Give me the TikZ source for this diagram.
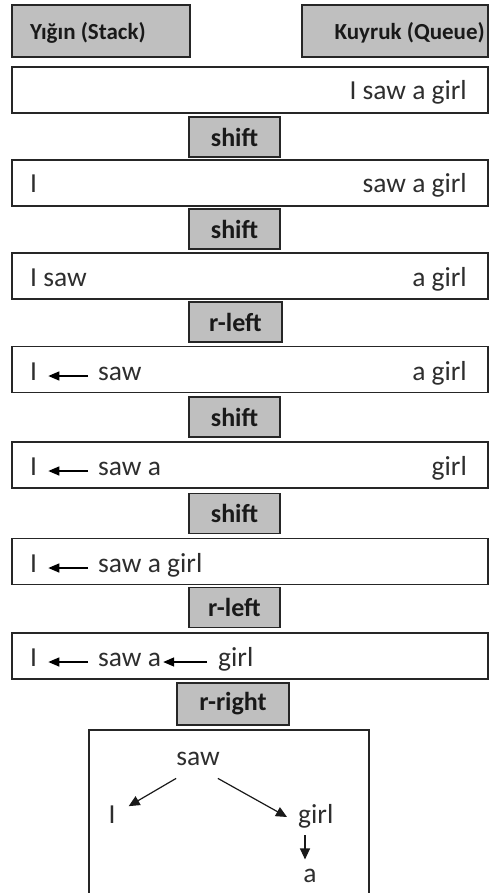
\documentclass[tikz,border=0pt]{standalone}
\usepackage{fontspec}
\setmainfont{Carlito}
\usetikzlibrary{arrows.meta}
\definecolor{btngray}{HTML}{BFBFBF}
\definecolor{txt}{HTML}{2E2E2E}
\tikzset{
  rowbox/.style={draw=black!85, line width=1.3pt, fill=white, minimum width=476pt, minimum height=46pt, inner sep=0pt},
  hdr/.style={draw=black!85, line width=1.3pt, fill=btngray, inner sep=0pt, minimum height=52pt},
  hdrtxt/.style={font=\fontsize{23}{27}\selectfont\bfseries, text=black!90, inner sep=0pt},
  actbox/.style={draw=black!85, line width=1.3pt, fill=btngray, minimum height=40pt, minimum width=91pt, inner sep=0pt, font=\fontsize{26}{30}\selectfont\bfseries, text=black!90},
  word/.style={font=\fontsize{27.5}{32}\selectfont, text=txt, inner sep=0pt},
  rowarr/.style={line width=1.5pt, draw=black, -{Triangle[length=11pt,width=9pt]}},
  treearr/.style={line width=1.2pt, draw=black!90, -{Triangle[length=11pt,width=10pt]}},
}
\begin{document}
\begin{tikzpicture}[x=1pt,y=-1pt]
\useasboundingbox (0,0) rectangle (490,893);
% headers
\node[hdr, minimum width=178pt] (stack) at (101,31) {};
\node[hdrtxt, anchor=base west] (stackt) at (30,40) {Yığın (Stack)};
\node[hdr, minimum width=186pt] (queue) at (395,31) {};
\node[hdrtxt, anchor=base east] (queuet) at (485,40) {Kuyruk (Queue)};
% rows
\node[rowbox] (r1) at (250,90) {};
\node[rowbox] (r2) at (250,183) {};
\node[rowbox] (r3) at (250,276) {};
\node[rowbox] (r4) at (250,369.5) {};
\node[rowbox] (r5) at (250,465) {};
\node[rowbox] (r6) at (250,561.5) {};
\node[rowbox] (r7) at (250,656) {};
% actions
\node[actbox] (a1) at (234.5,137) {shift};
\node[actbox] (a2) at (234.5,229) {shift};
\node[actbox, minimum width=93pt] (a3) at (235.5,322) {r-left};
\node[actbox] (a4) at (234.5,417) {shift};
\node[actbox] (a5) at (234.5,513.5) {shift};
\node[actbox] (a6) at (234.5,607.5) {r-left};
\node[actbox, minimum width=112pt, minimum height=42pt] (a7) at (233,704) {r-right};
% row 1
\node[word, anchor=base east] (r1q) at (467,100) {I saw a girl};
% row 2
\node[word, anchor=base west] (r2i) at (30,193) {I};
\node[word, anchor=base east] (r2q) at (467,193) {saw a girl};
% row 3
\node[word, anchor=base west] (r3s) at (30,286) {I saw};
\node[word, anchor=base east] (r3q) at (467,286) {a girl};
% row 4
\node[word, anchor=base west] (r4i) at (30,380) {I};
\node[word, anchor=base west] (r4s) at (98,380) {saw};
\node[word, anchor=base east] (r4q) at (467,380) {a girl};
\draw[rowarr] ([xshift=-10pt,yshift=4pt]r4s.base west) -- ([xshift=11pt,yshift=4pt]r4i.base east);
% row 5
\node[word, anchor=base west] (r5i) at (30,475) {I};
\node[word, anchor=base west] (r5s) at (98,475) {saw a};
\node[word, anchor=base east] (r5q) at (467,475) {girl};
\draw[rowarr] ([xshift=-10pt,yshift=4pt]r5s.base west) -- ([xshift=11pt,yshift=4pt]r5i.base east);
% row 6
\node[word, anchor=base west] (r6i) at (30,572) {I};
\node[word, anchor=base west] (r6s) at (98,572) {saw a girl};
\draw[rowarr] ([xshift=-10pt,yshift=4pt]r6s.base west) -- ([xshift=11pt,yshift=4pt]r6i.base east);
% row 7
\node[word, anchor=base west] (r7i) at (30,666) {I};
\node[word, anchor=base west] (r7s) at (98,666) {saw a};
\node[word, anchor=base west] (r7g) at (218,666) {girl};
\draw[rowarr] ([xshift=-10pt,yshift=4pt]r7s.base west) -- ([xshift=11pt,yshift=4pt]r7i.base east);
\draw[rowarr] ([xshift=-11pt,yshift=4pt]r7g.base west) -- ([xshift=2pt,yshift=4pt]r7s.base east);
% tree box (open at bottom)
\coordinate (tbl) at (89,893);
\coordinate (tbr) at (369,893);
\draw[draw=black!85, line width=1.3pt] (tbl) -- (89,730) -- (369,730) -- (tbr);
\node[word, anchor=base] (tsaw) at (198,765) {saw};
\node[word, anchor=base] (tI) at (112,823) {I};
\node[word, anchor=base west] (tgirl) at (298,823) {girl};
\node[word, anchor=base] (ta) at (310,882) {a};
\draw[treearr] ([xshift=0pt,yshift=-13pt]tsaw.south west) -- ([xshift=13pt,yshift=-1pt]tI.north east);
\draw[treearr] ([xshift=-2pt,yshift=-13pt]tsaw.south east) -- ([xshift=-11pt,yshift=6pt]tgirl.base west);
\draw[treearr] ([xshift=7pt,yshift=-12pt]tgirl.base west) -- ([xshift=-5pt,yshift=9pt]ta.north);
\end{tikzpicture}
\end{document}
